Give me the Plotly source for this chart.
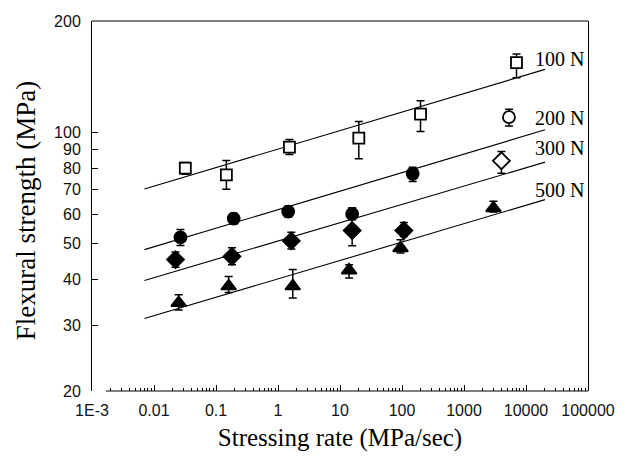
import plotly.graph_objects as go
import math

# ---- data ----
x_100 = [0.032, 0.147, 1.53, 20.1, 199, 7030]
y_100 = [80.1, 76.8, 91.2, 96.5, 112, 154.4]
ep_100 = [2.8, 7.1, 4.5, 10.5, 9.8, 8.5]
em_100 = [3.0, 6.6, 4.0, 11.7, 11.5, 13.8]

x_200 = [0.0267, 0.193, 1.46, 15.7, 148.6, 5310]
y_200 = [52.0, 58.5, 61.1, 60.2, 77.3, 109.9]
ep_200 = [2.6, 2.0, 2.0, 2.4, 3.2, 5.6]
em_200 = [2.5, 2.0, 2.0, 2.0, 3.6, 5.8]

x_300 = [0.0222, 0.181, 1.64, 15.7, 107, 4010]
y_300 = [45.3, 46.2, 50.9, 54.3, 54.3, 83.8]
ep_300 = [2.2, 2.6, 2.8, 3.8, 2.8, 5.0]
em_300 = [2.1, 2.3, 2.5, 4.9, 2.0, 6.2]

x_500 = [0.025, 0.160, 1.73, 14.0, 94.6, 2985]
y_500 = [34.6, 38.4, 38.4, 42.4, 48.7, 62.4]
ep_500 = [1.8, 2.4, 4.2, 1.5, 2.6, 2.7]
em_500 = [1.5, 1.5, 2.7, 2.0, 1.5, 1.5]

# fitted lines (end points)
fit_x = [0.007, 20300]
fit_100 = [70.3, 148.0]
fit_200 = [48.2, 101.6]
fit_300 = [39.8, 83.1]
fit_500 = [31.4, 65.8]

load_labels = ["100 N", "200 N", "300 N", "500 N"]

x_tickvals = [1e-3, 1e-2, 1e-1, 1, 10, 100, 1000, 10000, 100000]
x_ticktext = ["1E-3", "0.01", "0.1", "1", "10", "100", "1000", "10000", "100000"]
y_tickvals = [20, 30, 40, 50, 60, 70, 80, 90, 100, 200]
y_ticktext = [str(v) for v in y_tickvals]

# ---- figure ----
fig = go.Figure()

for fy in [fit_100, fit_200, fit_300, fit_500]:
    fig.add_trace(go.Scatter(x=fit_x, y=fy, mode="lines",
                             line=dict(color="black", width=1.1),
                             hoverinfo="skip"))

def series(x, y, ep, em, symbols, colors, size):
    fig.add_trace(go.Scatter(
        x=x, y=y, mode="markers",
        marker=dict(symbol=symbols, size=size, color=colors,
                    line=dict(color="black", width=1.8)),
        error_y=dict(type="data", symmetric=False, array=ep, arrayminus=em,
                     color="black", thickness=1.5, width=4),
    ))

series(x_100, y_100, ep_100, em_100, ["square"] * 6, ["white"] * 6, 11)
series(x_200, y_200, ep_200, em_200, ["circle"] * 6,
       ["black"] * 5 + ["white"], 12)
series(x_300, y_300, ep_300, em_300, ["diamond"] * 6,
       ["black"] * 5 + ["white"], 13)
series(x_500, y_500, ep_500, em_500, ["triangle-up"] * 6, ["black"] * 6, 13)

minor_vals = [m * 10 ** e for e in range(-3, 5) for m in range(2, 10)]

tickfont = dict(family="Liberation Sans, Arial, sans-serif", size=16, color="#111")
serif = "Liberation Serif, Times New Roman, serif"

fig.update_xaxes(type="log", range=[-3, 5],
                 tickmode="array", tickvals=x_tickvals, ticktext=x_ticktext,
                 ticks="inside", ticklen=6, tickwidth=1, tickcolor="black",
                 showline=False, showgrid=False, zeroline=False,
                 tickfont=tickfont, ticklabelstandoff=8,
                 minor=dict(tickmode="array", tickvals=minor_vals, ticks="inside",
                            ticklen=3, tickwidth=1, tickcolor="black", showgrid=False),
                 title=dict(text="Stressing rate (MPa/sec)",
                            font=dict(family=serif, size=25, color="black"),
                            standoff=10))

fig.update_yaxes(type="log", range=[math.log10(20), math.log10(200)],
                 tickmode="array", tickvals=y_tickvals, ticktext=y_ticktext,
                 ticks="inside", ticklen=6, tickwidth=1, tickcolor="black",
                 showline=True, linecolor="black", linewidth=1, mirror=True,
                 showgrid=False, zeroline=False,
                 tickfont=tickfont, ticklabelstandoff=7)

# y-axis title placed as rotated text
fig.add_annotation(text="Flexural strength (MPa)", xref="paper", yref="paper",
                   x=-0.133, y=0.486, xanchor="center", yanchor="middle",
                   textangle=-90, showarrow=False,
                   font=dict(family=serif, size=27, color="black"))

# frame top line and offset x-axis line
fig.add_shape(type="line", xref="paper", yref="paper", x0=0, x1=1, y0=1, y1=1,
              line=dict(color="black", width=1))
fig.add_shape(type="line", xref="paper", yref="paper", x0=0.028, x1=1, y0=0, y1=0,
              line=dict(color="black", width=1))

label_y = [0.897, 0.738, 0.657, 0.543]
for txt, yy in zip(load_labels, label_y):
    fig.add_annotation(text=txt, xref="paper", yref="paper", x=0.889, y=yy,
                       xanchor="left", yanchor="middle", showarrow=False,
                       font=dict(family=serif, size=20, color="black"))

fig.update_layout(width=627, height=462,
                  margin=dict(l=92, r=32, t=21, b=71),
                  plot_bgcolor="white", paper_bgcolor="white",
                  showlegend=False)

fig.write_html("out.html")
